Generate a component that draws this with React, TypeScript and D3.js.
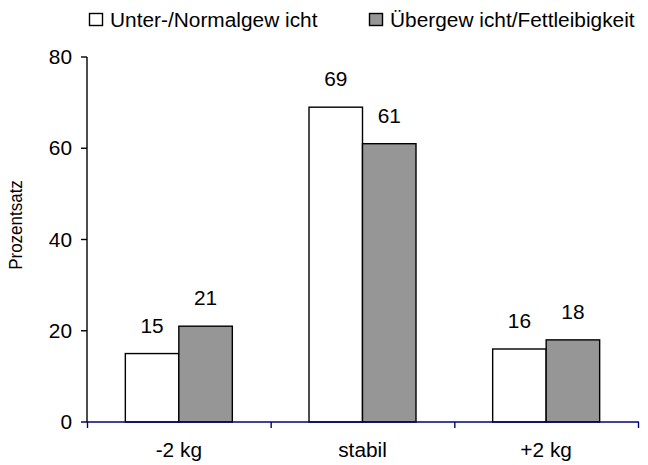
import React from 'react';
import * as d3 from 'd3';

const categories = ['-2 kg', 'stabil', '+2 kg'];
const seriesNames = ['Unter-/Normalgew icht', 'Übergew icht/Fettleibigkeit'];
const normal = [15, 69, 16];
const over = [21, 61, 18];
const yTicks = [0, 20, 40, 60, 80];

const W = 648;
const H = 465;
const left = 87;
const right = 638;
const top = 57;
const bottom = 422;
const font = 'Liberation Sans, Arial, sans-serif';
const fills = ['#ffffff', '#969696'];
const stretch = 1.07;

// text is slightly wider than normal in the source picture
function T(props: { x: number; y: number; size: number; anchor?: string; children: React.ReactNode }) {
  return (
    <text
      transform={`translate(${props.x},${props.y}) scale(${stretch},1)`}
      fontSize={props.size}
      textAnchor={props.anchor || 'start'}
      fill="#000"
    >
      {props.children}
    </text>
  );
}

export default function App() {
  const x = d3.scaleBand<string>().domain(categories).range([left, right]).padding(0);
  const y = d3.scaleLinear().domain([0, 80]).range([bottom, top]);
  const bw = 53.5;
  const series = [normal, over];
  const legendX = [89, 369];

  return (
    <svg width={W} height={H} style={{ position: 'absolute', left: 0, top: 0 }} fontFamily={font}>
      <rect width={W} height={H} fill="#fff" />
      {/* legend */}
      {seriesNames.map((s, i) => (
        <g key={s}>
          <rect x={legendX[i] + 0.5} y={13.5} width={13} height={12} fill={fills[i]} stroke="#000" strokeWidth={1.4} />
          <T x={legendX[i] + 21} y={27} size={19.5}>{s}</T>
        </g>
      ))}
      {/* y axis */}
      <line x1={left} x2={left} y1={top} y2={bottom} stroke="#000" strokeWidth={1.4} />
      {yTicks.map((t) => (
        <g key={t}>
          <line x1={left - 6} x2={left} y1={y(t)} y2={y(t)} stroke="#000" strokeWidth={1.4} />
          <T x={left - 15} y={y(t) + 7} size={19.5} anchor="end">{t}</T>
        </g>
      ))}
      <text transform={`translate(22,225) rotate(-90) scale(1,${stretch})`} fontSize={17} textAnchor="middle" fill="#000">
        Prozentsatz
      </text>
      {/* bars */}
      {categories.map((c, ci) => {
        const cx = x(c)! + x.bandwidth() / 2;
        return series.map((vals, si) => {
          const bx = cx - bw + si * bw;
          const v = vals[ci];
          return (
            <g key={c + si}>
              <rect x={bx} y={y(v)} width={bw} height={bottom - y(v)} fill={fills[si]} stroke="#000" strokeWidth={1.4} />
              <T x={bx + bw / 2} y={y(v) - 21} size={19.5} anchor="middle">{v}</T>
            </g>
          );
        });
      })}
      {/* x axis */}
      <line x1={left} x2={right + 1} y1={bottom} y2={bottom} stroke="#000080" strokeWidth={1.4} />
      {[...categories.map((c) => x(c)!), right].map((t, i) => (
        <line key={i} x1={t + 0.5} x2={t + 0.5} y1={bottom} y2={bottom + 6} stroke="#000080" strokeWidth={1.4} />
      ))}
      {categories.map((c) => (
        <T key={c} x={x(c)! + x.bandwidth() / 2} y={bottom + 35} size={19.5} anchor="middle">{c}</T>
      ))}
    </svg>
  );
}
